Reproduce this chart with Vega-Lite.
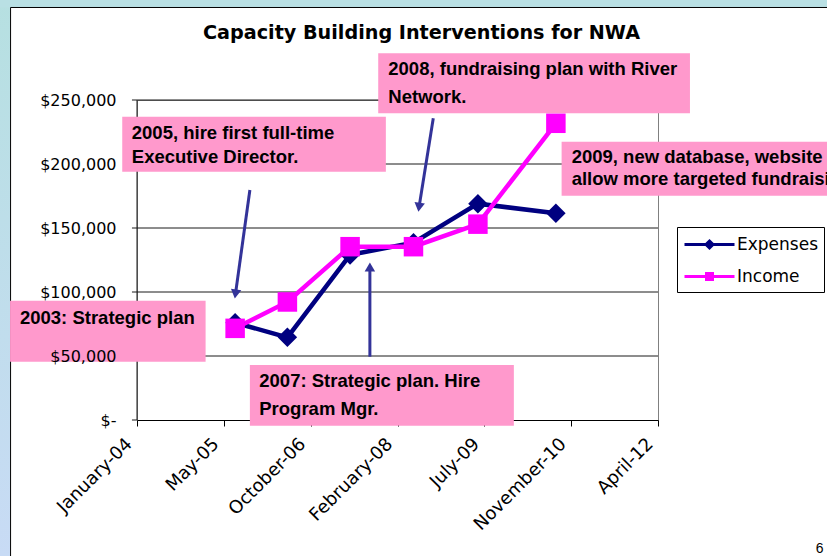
{
  "$schema": "https://vega.github.io/schema/vega-lite/v6.json",
  "width": 521,
  "height": 320,
  "autosize": {"type": "none"},
  "padding": {"left": 137, "top": 100, "right": 169, "bottom": 136},
  "background": "white",
  "config": {"view": {"stroke": "#808080", "strokeWidth": 1}},
  "title": {
    "text": "Capacity Building Interventions for NWA",
    "font": "DejaVu Sans",
    "fontSize": 19.2,
    "fontWeight": "bold",
    "color": "black",
    "anchor": "middle",
    "frame": "group",
    "dx": 24,
    "offset": -62,
    "baseline": "bottom"
  },
  "datasets": {
    "series": [
      {"series": "Expenses", "date": "2005-08-01", "amount": 76000},
      {"series": "Expenses", "date": "2006-05-29", "amount": 64600},
      {"series": "Expenses", "date": "2007-05-25", "amount": 129000},
      {"series": "Expenses", "date": "2008-05-24", "amount": 138500},
      {"series": "Expenses", "date": "2009-05-30", "amount": 169000},
      {"series": "Expenses", "date": "2010-08-22", "amount": 161500},
      {"series": "Income", "date": "2005-08-01", "amount": 71600},
      {"series": "Income", "date": "2006-05-29", "amount": 92200},
      {"series": "Income", "date": "2007-05-25", "amount": 135400},
      {"series": "Income", "date": "2008-05-24", "amount": 135400},
      {"series": "Income", "date": "2009-05-30", "amount": 153000},
      {"series": "Income", "date": "2010-08-22", "amount": 231800}
    ],
    "decor": [
      {"part": "left", "date": "2001-11-16", "date2": "2002-01-16", "amount": 328125, "amount2": -106250},
      {"part": "top", "date": "2001-11-16", "date2": "2016-01-01", "amount": 328125, "amount2": 322266},
      {"part": "frame", "date": "2002-01-16", "date2": "2016-01-01", "amount": 322266, "amount2": -300000}
    ],
    "grid": [
      {"date": "2004-01-14", "date2": "2012-04-01", "amount": 50000, "amount2": 50000},
      {"date": "2004-01-14", "date2": "2012-04-01", "amount": 100000, "amount2": 100000},
      {"date": "2004-01-14", "date2": "2012-04-01", "amount": 150000, "amount2": 150000},
      {"date": "2004-01-14", "date2": "2012-04-01", "amount": 200000, "amount2": 200000},
      {"date": "2004-01-14", "date2": "2012-04-01", "amount": 250000, "amount2": 250000},
      {"date": "2004-01-14", "date2": "2004-01-14", "amount": 0, "amount2": 250000},
      {"date": "2003-12-16", "date2": "2004-01-14", "amount": 0, "amount2": 0},
      {"date": "2003-12-16", "date2": "2004-01-14", "amount": 50000, "amount2": 50000},
      {"date": "2003-12-16", "date2": "2004-01-14", "amount": 100000, "amount2": 100000},
      {"date": "2003-12-16", "date2": "2004-01-14", "amount": 150000, "amount2": 150000},
      {"date": "2003-12-16", "date2": "2004-01-14", "amount": 200000, "amount2": 200000},
      {"date": "2003-12-16", "date2": "2004-01-14", "amount": 250000, "amount2": 250000}
    ],
    "boxes": [
      {"note": "2008", "date": "2007-11-03", "date2": "2012-10-02", "amount": 286500, "amount2": 239600},
      {"note": "2005", "date": "2003-10-21", "date2": "2007-12-17", "amount": 236950, "amount2": 193980},
      {"note": "2003", "date": "2002-01-13", "date2": "2005-02-12", "amount": 93200, "amount2": 45550},
      {"note": "2009", "date": "2010-09-24", "date2": "2015-01-31", "amount": 217420, "amount2": 175230},
      {"note": "2007", "date": "2005-10-25", "date2": "2009-12-23", "amount": 42970, "amount2": -4450}
    ],
    "notes": [
      {"date": "2007-12-31", "amount": 269500, "label": "2008, fundraising plan with River"},
      {"date": "2007-12-31", "amount": 247420, "label": "Network."},
      {"date": "2003-12-15", "amount": 219300, "label": "2005, hire first full-time"},
      {"date": "2003-12-15", "amount": 200550, "label": "Executive Director."},
      {"date": "2002-03-11", "amount": 74770, "label": "2003: Strategic plan"},
      {"date": "2010-11-21", "amount": 200780, "label": "2009, new database, website"},
      {"date": "2010-11-21", "amount": 183590, "label": "allow more targeted fundraising."},
      {"date": "2005-12-18", "amount": 25550, "label": "2007: Strategic plan. Hire"},
      {"date": "2005-12-18", "amount": 3900, "label": "Program Mgr."}
    ],
    "arrows": [
      {"dir": "down", "date": "2005-08-03", "amount": 98440, "date2": "2005-10-25", "amount2": 179690},
      {"dir": "down", "date": "2008-06-25", "amount": 166170, "date2": "2008-09-15", "amount2": 235700},
      {"dir": "up", "date": "2007-09-16", "amount": 119530, "date2": "2007-09-16", "amount2": 49450}
    ],
    "page": [{"date": "2014-09-27", "amount": -103900, "label": "6"}]
  },
  "encoding": {
    "x": {
      "field": "date",
      "type": "temporal",
      "scale": {
        "type": "utc",
        "nice": false,
        "domain": [
          {"year": 2004, "month": 1, "date": 14, "utc": true},
          {"year": 2012, "month": 4, "date": 1, "utc": true}
        ]
      },
      "axis": {
        "title": null,
        "grid": false,
        "values": [
          {"year": 2004, "month": 1, "date": 14, "utc": true},
          {"year": 2005, "month": 5, "date": 28, "utc": true},
          {"year": 2006, "month": 10, "date": 10, "utc": true},
          {"year": 2008, "month": 2, "date": 22, "utc": true},
          {"year": 2009, "month": 7, "date": 6, "utc": true},
          {"year": 2010, "month": 11, "date": 18, "utc": true},
          {"year": 2012, "month": 4, "date": 1, "utc": true}
        ],
        "format": "%B-%y",
        "labelAngle": -45,
        "labelAlign": "right",
        "labelBaseline": "middle",
        "labelPadding": 15,
        "labelOffset": -8,
        "labelFont": "DejaVu Sans",
        "labelFontSize": 18,
        "labelColor": "black",
        "labelOverlap": false,
        "labelFlush": false,
        "labelBound": false,
        "tickColor": "black",
        "tickSize": 6,
        "domainColor": "black"
      }
    },
    "y": {
      "field": "amount",
      "type": "quantitative",
      "scale": {"domain": [0, 250000], "nice": false, "zero": false},
      "axis": {
        "title": null,
        "grid": false,
        "domain": false,
        "values": [0, 50000, 100000, 150000, 200000, 250000],
        "labelExpr": "datum.value == 0 ? '$-' : '$' + format(datum.value, ',')",
        "labelFont": "DejaVu Sans",
        "labelFontSize": 16,
        "labelColor": "black",
        "labelPadding": 16,
        "tickSize": 5,
        "tickOpacity": 0,
        "zindex": 1
      }
    }
  },
  "layer": [
    {
      "data": {"name": "decor"},
      "transform": [{"filter": "datum.part == 'left'"}],
      "mark": {
        "type": "rect",
        "color": {
          "x1": 0, "y1": 0, "x2": 0, "y2": 1,
          "gradient": "linear",
          "stops": [{"offset": 0, "color": "#b6e0e1"}, {"offset": 1, "color": "#c8dbf5"}]
        }
      },
      "encoding": {"x2": {"field": "date2"}, "y2": {"field": "amount2"}}
    },
    {
      "data": {"name": "decor"},
      "transform": [{"filter": "datum.part == 'top'"}],
      "mark": {"type": "rect", "color": "#b9e0e4"},
      "encoding": {"x2": {"field": "date2"}, "y2": {"field": "amount2"}}
    },
    {
      "data": {"name": "decor"},
      "transform": [{"filter": "datum.part == 'frame'"}],
      "mark": {"type": "rect", "filled": false, "stroke": "black", "strokeWidth": 1},
      "encoding": {"x2": {"field": "date2"}, "y2": {"field": "amount2"}}
    },
    {
      "data": {"name": "grid"},
      "mark": {"type": "rule", "color": "#1a1a1a", "strokeWidth": 1},
      "encoding": {"x2": {"field": "date2"}, "y2": {"field": "amount2"}}
    },
    {
      "data": {"name": "boxes"},
      "mark": {"type": "rect", "color": "#FF99CC"},
      "encoding": {"x2": {"field": "date2"}, "y2": {"field": "amount2"}}
    },
    {
      "data": {"name": "notes"},
      "mark": {
        "type": "text",
        "align": "left",
        "baseline": "alphabetic",
        "font": "Liberation Sans",
        "fontSize": 18.5,
        "fontWeight": "bold",
        "color": "black"
      },
      "encoding": {"text": {"field": "label"}}
    },
    {
      "data": {"name": "series"},
      "encoding": {
        "color": {
          "field": "series",
          "type": "nominal",
          "scale": {"domain": ["Expenses", "Income"], "range": ["#000080", "#FF00FF"]},
          "legend": {
            "title": null,
            "orient": "none",
            "legendX": 540,
            "legendY": 127,
            "padding": 6,
            "strokeColor": "black",
            "fillColor": "white",
            "cornerRadius": 0,
            "symbolSize": 400,
            "symbolStrokeWidth": 3,
            "labelFont": "DejaVu Sans",
            "labelFontSize": 17,
            "labelColor": "black",
            "labelOffset": 31,
            "rowPadding": 11,
            "encode": {
              "symbols": {
                "update": {
                  "shape": {"signal": "datum.value === 'Expenses' ? 'M-1,0L4,0M1.5,-0.35L1.85,0L1.5,0.35L1.15,0Z' : 'M-1,0L4,0M1.2,-0.3L1.8,-0.3L1.8,0.3L1.2,0.3Z'"},
                  "fill": {"signal": "datum.value === 'Expenses' ? '#000080' : '#FF00FF'"},
                  "stroke": {"signal": "datum.value === 'Expenses' ? '#000080' : '#FF00FF'"},
                  "strokeWidth": {"value": 3},
                  "opacity": {"value": 1}
                }
              }
            }
          }
        }
      },
      "layer": [
        {"mark": {"type": "line", "strokeWidth": 4.5}},
        {
          "transform": [{"filter": "datum.series == 'Expenses'"}],
          "mark": {"type": "point", "shape": "diamond", "filled": true, "size": 380, "opacity": 1}
        },
        {
          "transform": [{"filter": "datum.series == 'Income'"}],
          "mark": {"type": "point", "shape": "square", "filled": true, "size": 380, "opacity": 1}
        }
      ]
    },
    {
      "data": {"name": "arrows"},
      "mark": {"type": "rule", "color": "#333399", "strokeWidth": 3},
      "encoding": {"x2": {"field": "date2"}, "y2": {"field": "amount2"}}
    },
    {
      "data": {"name": "arrows"},
      "transform": [{"filter": "datum.dir == 'down'"}],
      "mark": {"type": "point", "shape": "triangle-down", "filled": true, "color": "#333399", "size": 110, "angle": 8.5, "opacity": 1}
    },
    {
      "data": {"name": "arrows"},
      "transform": [{"filter": "datum.dir == 'up'"}],
      "mark": {"type": "point", "shape": "triangle-up", "filled": true, "color": "#333399", "size": 110, "opacity": 1}
    },
    {
      "data": {"name": "page"},
      "mark": {"type": "text", "align": "left", "baseline": "alphabetic", "font": "Liberation Sans", "fontSize": 14, "color": "black"},
      "encoding": {"text": {"field": "label"}}
    }
  ]
}
